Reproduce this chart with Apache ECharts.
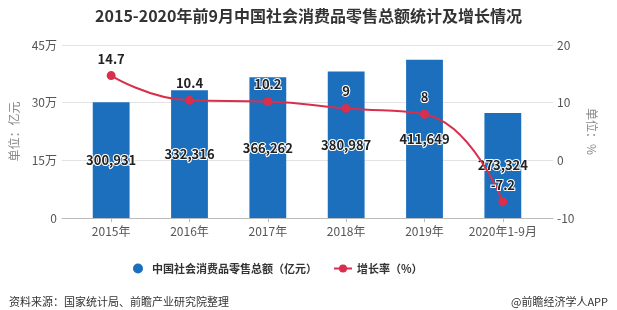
<!DOCTYPE html>
<html>
<head>
<meta charset="utf-8">
<script src="https://cdn.jsdelivr.net/npm/echarts@6/dist/echarts.min.js"></script>
<style>
html, body { margin: 0; padding: 0; background: #fff; }
#main { width: 617px; height: 310px; }
</style>
</head>
<body>
<div id="main"></div>
<script>
// 数据
var years = ['2015年', '2016年', '2017年', '2018年', '2019年', '2020年1-9月'];
var retailTotal = [300931, 332316, 366262, 380987, 411649, 273324];
var growthRate = [14.7, 10.4, 10.2, 9, 8, -7.2];

var myChart = echarts.init(document.getElementById('main'));
var font = '"Microsoft YaHei", "Noto Sans CJK SC", sans-serif';

var option = {
    textStyle: { fontFamily: font },
    title: [{
        text: '2015-2020年前9月中国社会消费品零售总额统计及增长情况',
        left: 'center',
        top: 3,
        textStyle: { fontSize: 16, fontWeight: 'bold', color: '#333', fontFamily: font }
    }, {
        text: '资料来源：国家统计局、前瞻产业研究院整理',
        left: 4,
        top: 291,
        textStyle: { fontSize: 11, fontWeight: 'normal', color: '#333', fontFamily: font }
    }, {
        text: '@前瞻经济学人APP',
        right: 4,
        top: 291,
        textStyle: { fontSize: 11, fontWeight: 'normal', color: '#333', fontFamily: font }
    }],
    legend: {
        top: 258,
        left: 128,
        itemGap: 16,
        itemWidth: 18,
        itemHeight: 10,
        textStyle: { fontSize: 11, color: '#333', fontWeight: 'bold' },
        data: [
            { name: '中国社会消费品零售总额（亿元）', icon: 'circle' },
            { name: '增长率（%）' }
        ]
    },
    // grid 0: 数据区; grid 1: 只画网格线和底轴线
    grid: [
        { left: 72, right: 75, top: 45, bottom: 92 },
        { left: 62, right: 64, top: 45, bottom: 92 }
    ],
    xAxis: [{
        type: 'category',
        gridIndex: 0,
        data: years,
        axisLine: { show: false },
        axisTick: { show: true, alignWithLabel: true, length: 4, lineStyle: { color: '#bbb' } },
        axisLabel: { color: '#555', fontSize: 12, margin: 7, interval: 0 }
    }, {
        type: 'value',
        gridIndex: 1,
        min: 0,
        max: 1,
        axisLine: { show: true, lineStyle: { color: '#bbb' } },
        axisTick: { show: false },
        axisLabel: { show: false },
        splitLine: { show: false }
    }],
    yAxis: [{
        type: 'value',
        gridIndex: 0,
        min: 0,
        max: 450000,
        interval: 150000,
        name: '单位：亿元',
        nameLocation: 'middle',
        nameGap: 38,
        nameTextStyle: { color: '#888', fontSize: 12 },
        axisLine: { show: false },
        axisTick: { show: false },
        axisLabel: {
            color: '#555',
            fontSize: 12,
            margin: 15,
            formatter: function (v) { return v === 0 ? '0' : (v / 10000) + '万'; }
        },
        splitLine: { show: false }
    }, {
        type: 'value',
        gridIndex: 0,
        min: -10,
        max: 20,
        interval: 10,
        name: '单位：%',
        nameLocation: 'middle',
        nameGap: 26,
        nameRotate: -90,
        nameTextStyle: { color: '#888', fontSize: 12 },
        axisLine: { show: false },
        axisTick: { show: false },
        axisLabel: { color: '#555', fontSize: 12, margin: 15 },
        splitLine: { show: false }
    }, {
        type: 'value',
        gridIndex: 1,
        min: 0,
        max: 450000,
        interval: 150000,
        axisLine: { show: false },
        axisTick: { show: false },
        axisLabel: { show: false },
        splitLine: { lineStyle: { color: '#e3e3e3' } }
    }],
    series: [{
        name: '中国社会消费品零售总额（亿元）',
        type: 'bar',
        data: retailTotal,
        barWidth: '47%',
        itemStyle: { color: '#1b6fbd' },
        label: {
            show: true,
            position: 'inside',
            color: '#222',
            fontSize: 13,
            fontWeight: 'bold',
            textBorderColor: '#fff',
            textBorderWidth: 2,
            formatter: function (p) { return p.value.toLocaleString('en-US'); }
        }
    }, {
        name: '增长率（%）',
        type: 'line',
        yAxisIndex: 1,
        data: growthRate,
        smooth: true,
        symbol: 'circle',
        symbolSize: 9,
        itemStyle: { color: '#d92f4c' },
        lineStyle: { color: '#d92f4c', width: 2 },
        label: {
            show: true,
            position: 'top',
            distance: 6,
            color: '#222',
            fontSize: 13,
            fontWeight: 'bold',
            textBorderColor: '#fff',
            textBorderWidth: 2
        }
    }]
};

myChart.setOption(option);
</script>
</body>
</html>
